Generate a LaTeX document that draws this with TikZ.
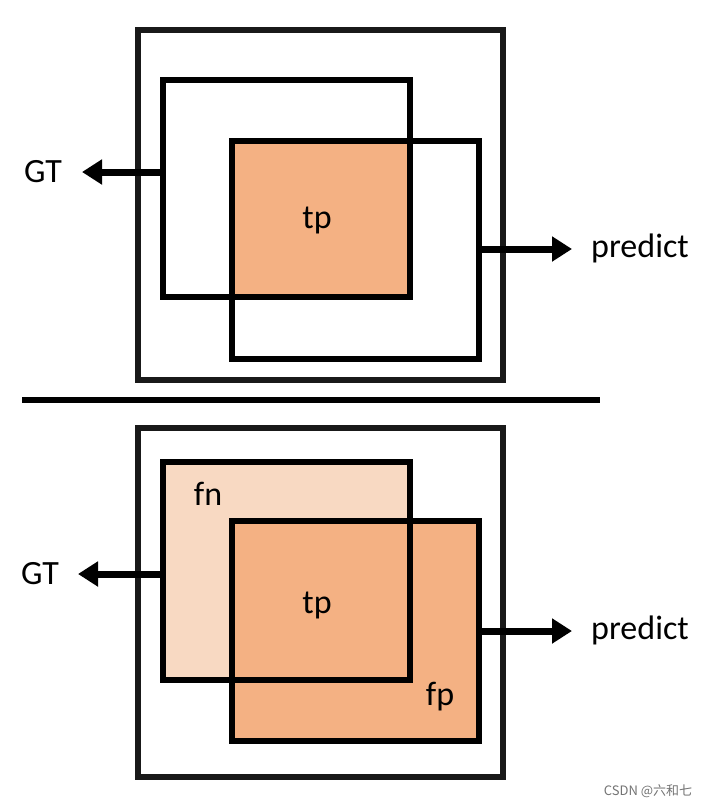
\documentclass[tikz,border=0pt]{standalone}
\usepackage{fontspec}
\setmainfont{Carlito}
\newfontfamily\cjk{Noto Sans CJK SC}
\usetikzlibrary{arrows.meta}
\definecolor{tpc}{HTML}{F4B183}
\definecolor{fnc}{HTML}{F8D9C2}
\begin{document}
\begin{tikzpicture}[x=1pt,y=-1pt,
  box/.style={draw=black,line width=6pt},
  outer/.style={draw=black!90,line width=6pt},
  arr/.style={line width=7pt,-{Triangle[length=20pt,width=24pt]}},
  lbl/.style={font=\fontsize{34}{38}\selectfont,inner sep=0pt}]
\useasboundingbox (0,0) rectangle (713,809);
% top
\fill[tpc] (232,141) rectangle (410,297);
\draw[outer] (138,30) rectangle (503,380);
\draw[box] (163,80) rectangle (410,297);
\draw[box] (232,141) rectangle (479,359);
\coordinate (g1) at (163,172); \coordinate (p1) at (479,249);
\node[lbl] (gt1) at (43,172) {GT};
\node[lbl] (pr1) at (640,248) {predict};
\node[lbl] (tp1) at (317,220) {tp};
\draw[arr] (g1) -- (82,172);
\draw[arr] (p1) -- (572,249);
% separator
\draw[line width=6pt] (22,400) -- (600,400);
% bottom
\fill[fnc] (163,462) rectangle (410,680);
\fill[tpc] (232,521) rectangle (479,741);
\draw[outer] (138,428) rectangle (503,777);
\draw[box] (163,462) rectangle (410,680);
\draw[box] (232,521) rectangle (479,741);
\coordinate (g2) at (163,574); \coordinate (p2) at (479,631);
\node[lbl] (gt2) at (40,574) {GT};
\node[lbl] (pr2) at (640,630) {predict};
\node[lbl] (tp2) at (317,605) {tp};
\node[lbl] (fn) at (208,494) {fn};
\node[lbl] (fp) at (440,697) {fp};
\draw[arr] (g2) -- (78,574);
\draw[arr] (p2) -- (572,631);
\node[font=\cjk\fontsize{13}{15}\selectfont,text=black!55,inner sep=0pt] (wm) at (648,791) {CSDN @六和七};
\end{tikzpicture}
\end{document}
